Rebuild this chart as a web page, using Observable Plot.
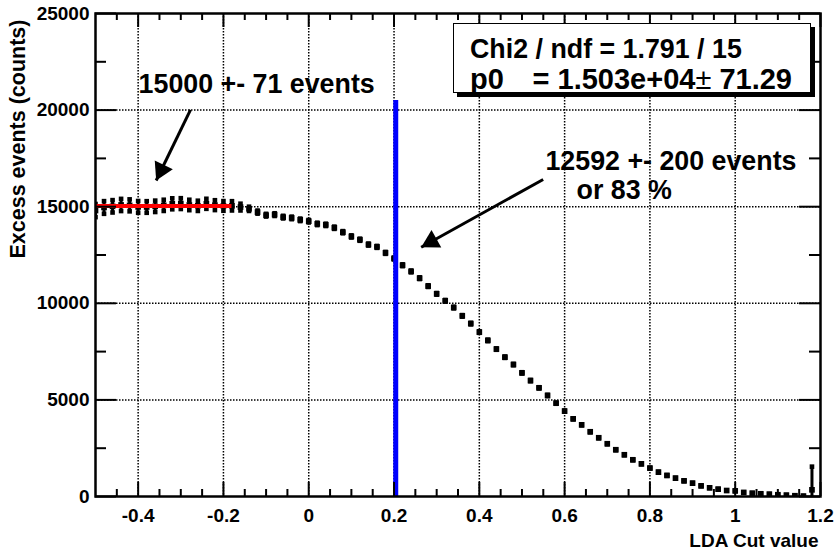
<!DOCTYPE html>
<html><head><meta charset="utf-8">
<script src="https://cdn.jsdelivr.net/npm/d3@7"></script>
<script src="https://cdn.jsdelivr.net/npm/@observablehq/plot@0.6"></script>
<style>
body{margin:0;background:#fff}
#wrap{position:relative;width:837px;height:552px;overflow:hidden}
svg{display:block}
#stats{position:absolute;left:453px;top:23px;width:356px;height:68px;background:#fff;border:1.5px solid #000;
  box-shadow:4px 4px 0 #000;font-family:'Liberation Sans',Arial,Helvetica,sans-serif;font-weight:bold;color:#000}
#stats div{position:absolute;white-space:pre;line-height:1}
</style>
</head><body><div id="wrap"><div id="chart"></div><div id="stats"></div></div>
<script>
// LDA cut value (x) of each point
const cutValues = [-0.5,-0.48,-0.46,-0.44,-0.42,-0.4,-0.38,-0.36,-0.34,-0.32,-0.3,-0.28,-0.26,-0.24,-0.22,-0.2,-0.18,-0.16,-0.14,-0.12,-0.1,-0.08,-0.06,-0.04,-0.02,0,0.02,0.04,0.06,0.08,0.1,0.12,0.14,0.16,0.18,0.2,0.22,0.24,0.26,0.28,0.3,0.32,0.34,0.36,0.38,0.4,0.42,0.44,0.46,0.48,0.5,0.52,0.54,0.56,0.58,0.6,0.62,0.64,0.66,0.68,0.7,0.72,0.74,0.76,0.78,0.8,0.82,0.84,0.86,0.88,0.9,0.92,0.94,0.96,0.98,1,1.02,1.04,1.06,1.08,1.1,1.12,1.14,1.16,1.18];
// Excess events (counts)
const excess = [14800,14960,15020,15090,15070,14990,14985,15020,15070,15150,15160,15090,15045,15150,15080,15040,15045,
14980,14890,14720,14560,14590,14460,14420,14320,14250,14110,14060,13910,13680,13460,13290,13040,12920,12610,12320,
11970,11650,11300,10890,10490,10130,9780,9350,8950,8510,8080,7630,7210,6830,6400,6000,5625,5230,4830,4420,4020,3710,3350,3040,
2730,2420,2160,1900,1690,1470,1260,1090,950,810,690,550,450,380,310,290,210,170,140,120,90,70,40,20,345];
// Error on excess
const errors = [340,328,320,315,310,305,300,295,290,285,280,270,265,260,255,250,240,
175,110,80,
70,70,68,66,65,64,62,60,58,56,55,54,52,50,50,48,
46,45,44,43,42,41,40,39,38,37,36,35,34,33,32,31,30,30,29,28,27,26,25,24,
23,22,21,20,20,19,18,17,16,15,14,14,13,12,12,11,10,10,9,9,8,8,7,7,
1200];

const xMajorTicks = [-0.4,-0.2,0,0.2,0.4,0.6,0.8,1,1.2];
const xTickLabels = ["-0.4","-0.2","0","0.2","0.4","0.6","0.8","1","1.2"];
const xMinorTicks = [-0.45,-0.35,-0.3,-0.25,-0.15,-0.1,-0.05,0.05,0.1,0.15,0.25,0.3,0.35,0.45,0.5,0.55,0.65,0.7,0.75,0.85,0.9,0.95,1.05,1.1,1.15];
const yMajorTicks = [0,5000,10000,15000,20000,25000];
const yTickLabels = ["0","5000","10000","15000","20000","25000"];
const yMinorTicks = [2500,7500,12500,17500,22500];

const fitRange = [-0.5, -0.18];
const fitValue = 15030;
const cutLine = [{x: 0.204, top: 20500}];

const annotationTexts = [
  {x: -0.399, y: 20900, text: "15000 +- 71 events"},
  {x: 0.555, y: 16910, text: "12592 +- 200 events"},
  {x: 0.628, y: 15409, text: "or 83 %"}
];
const arrows = [
  {x1: -0.2773, y1: 20016, x2: -0.3577, y2: 16356},
  {x1: 0.5497, y1: 16408, x2: 0.2637, y2: 12904}
];
const statsLine1 = "Chi2 / ndf = 1.791 / 15";
const statsName = "p0";
const statsValue = ["= 1.503e+04", "\u00b1", " 71.29"];

const font = "'Liberation Sans', Arial, Helvetica, sans-serif";
const W = 837, H = 552, mL = 95, mR = 17, mT = 13, mB = 56;
const plotH = H - mT - mB, plotW = W - mL - mR;
const xDomain = [-0.5, 1.2], yDomain = [0, 25000];

const data = cutValues.map((x, i) => ({x, y: excess[i], e: errors[i]}));
const id = d => d;
const grid = {stroke: "black", strokeWidth: 1.5, strokeDasharray: "1.5,1.5"};
const tk = {stroke: "black", strokeWidth: 2};

// arrowhead geometry (pixel direction follows the same linear mapping as the plot scales)
const px = d3.scaleLinear(xDomain, [mL, W - mR]), py = d3.scaleLinear(yDomain, [H - mB, mT]);
const headMarks = arrows.map(a => {
  const dx = px(a.x2) - px(a.x1), dy = py(a.y2) - py(a.y1), len = Math.hypot(dx, dy);
  const ux = dx / len, uy = dy / len;
  const k = 5.8;
  const angle = Math.atan2(ux, -uy) * 180 / Math.PI;
  return Plot.dot([a], {x: "x2", y: "y2", dx: -2 * k * ux, dy: -2 * k * uy, rotate: angle,
    symbol: "triangle", r: Math.sqrt(k * k * 3 * Math.sqrt(3) / Math.PI), fill: "black"});
});

const chart = Plot.plot({
  width: W, height: H,
  marginLeft: mL, marginRight: mR, marginTop: mT, marginBottom: mB,
  x: {domain: xDomain, axis: null},
  y: {domain: yDomain, axis: null},
  style: {fontFamily: font, background: "white", color: "black"},
  marks: [
    Plot.ruleX(xMajorTicks.filter(t => t < 1.2), {x: id, ...grid}),
    Plot.ruleY(yMajorTicks.filter(t => t > 0 && t < 25000), {y: id, ...grid}),
    // tick labels
    Plot.text(xMajorTicks, {x: id, text: (d, i) => xTickLabels[i], frameAnchor: "bottom", dy: 12,
      lineAnchor: "top", fontSize: 19, fontWeight: "bold", fill: "black"}),
    Plot.text(yMajorTicks, {y: id, text: (d, i) => yTickLabels[i], frameAnchor: "left", dx: -6,
      textAnchor: "end", lineAnchor: "middle", fontSize: 19, fontWeight: "bold", fill: "black"}),
    // error bars and caps
    Plot.ruleX(data, {x: "x", y1: d => d.y - d.e, y2: d => d.y + d.e, stroke: "black", strokeWidth: 3, clip: true}),
    Plot.dot(data, {x: "x", y: d => d.y + d.e, symbol: "square", r: 2.6, fill: "black", clip: true}),
    Plot.dot(data, {x: "x", y: d => d.y - d.e, symbol: "square", r: 2.6, fill: "black", clip: true}),
    // markers
    Plot.dot(data, {x: "x", y: "y", symbol: "square", r: 3.2, fill: "black", clip: true}),
    // fit
    Plot.ruleY([fitValue], {y: id, x1: fitRange[0], x2: fitRange[1], stroke: "#ff0000", strokeWidth: 4}),
    // cut line
    Plot.ruleX(cutLine, {x: "x", y1: 0, y2: "top", stroke: "#0000ff", strokeWidth: 5}),
    // arrows
    Plot.link(arrows, {x1: "x1", y1: "y1", x2: "x2", y2: "y2", stroke: "black", strokeWidth: 3}),
    ...headMarks,
    // annotation texts
    Plot.text(annotationTexts, {x: "x", y: "y", text: "text", textAnchor: "start", lineAnchor: "bottom",
      fontSize: 26.8, fontWeight: "bold", fill: "black"}),
    // axis titles
    Plot.text(["LDA Cut value"], {text: id, frameAnchor: "bottom-right", dx: -2, dy: 50, textAnchor: "end",
      lineAnchor: "bottom", fontSize: 19, fontWeight: "bold", fill: "black"}),
    Plot.text(["Excess events (counts)"], {text: id, frameAnchor: "top-left", dx: -77, dy: 6, rotate: -90,
      textAnchor: "end", lineAnchor: "middle", fontSize: 21.5, fontWeight: "bold", fill: "black"}),
    // ticks on all four sides
    Plot.ruleX(xMajorTicks, {x: id, insetTop: plotH - 14, ...tk}),
    Plot.ruleX(xMinorTicks, {x: id, insetTop: plotH - 7, ...tk}),
    Plot.ruleX(xMajorTicks, {x: id, insetBottom: plotH - 14, ...tk}),
    Plot.ruleX(xMinorTicks, {x: id, insetBottom: plotH - 7, ...tk}),
    Plot.ruleY(yMajorTicks, {y: id, insetRight: plotW - 21, ...tk}),
    Plot.ruleY(yMinorTicks, {y: id, insetRight: plotW - 11, ...tk}),
    Plot.ruleY(yMajorTicks, {y: id, insetLeft: plotW - 21, ...tk}),
    Plot.ruleY(yMinorTicks, {y: id, insetLeft: plotW - 11, ...tk}),
    Plot.frame({stroke: "black", strokeWidth: 2.5})
  ]
});
document.getElementById("chart").appendChild(chart);

// statistics box (HTML overlay, real text)
const stats = document.getElementById("stats");
const l1 = document.createElement("div");
l1.style.cssText = "left:16px;top:12px;font-size:26.8px"; l1.textContent = statsLine1;
const l2 = document.createElement("div");
l2.style.cssText = "left:16px;top:41px;font-size:29px"; l2.textContent = statsName;
const l3 = document.createElement("div");
l3.style.cssText = "right:18px;top:41px;font-size:29px";
l3.innerHTML = `${statsValue[0]}<span style="font-weight:normal">${statsValue[1]}</span>${statsValue[2]}`;
stats.append(l1, l2, l3);
</script>
</body></html>
